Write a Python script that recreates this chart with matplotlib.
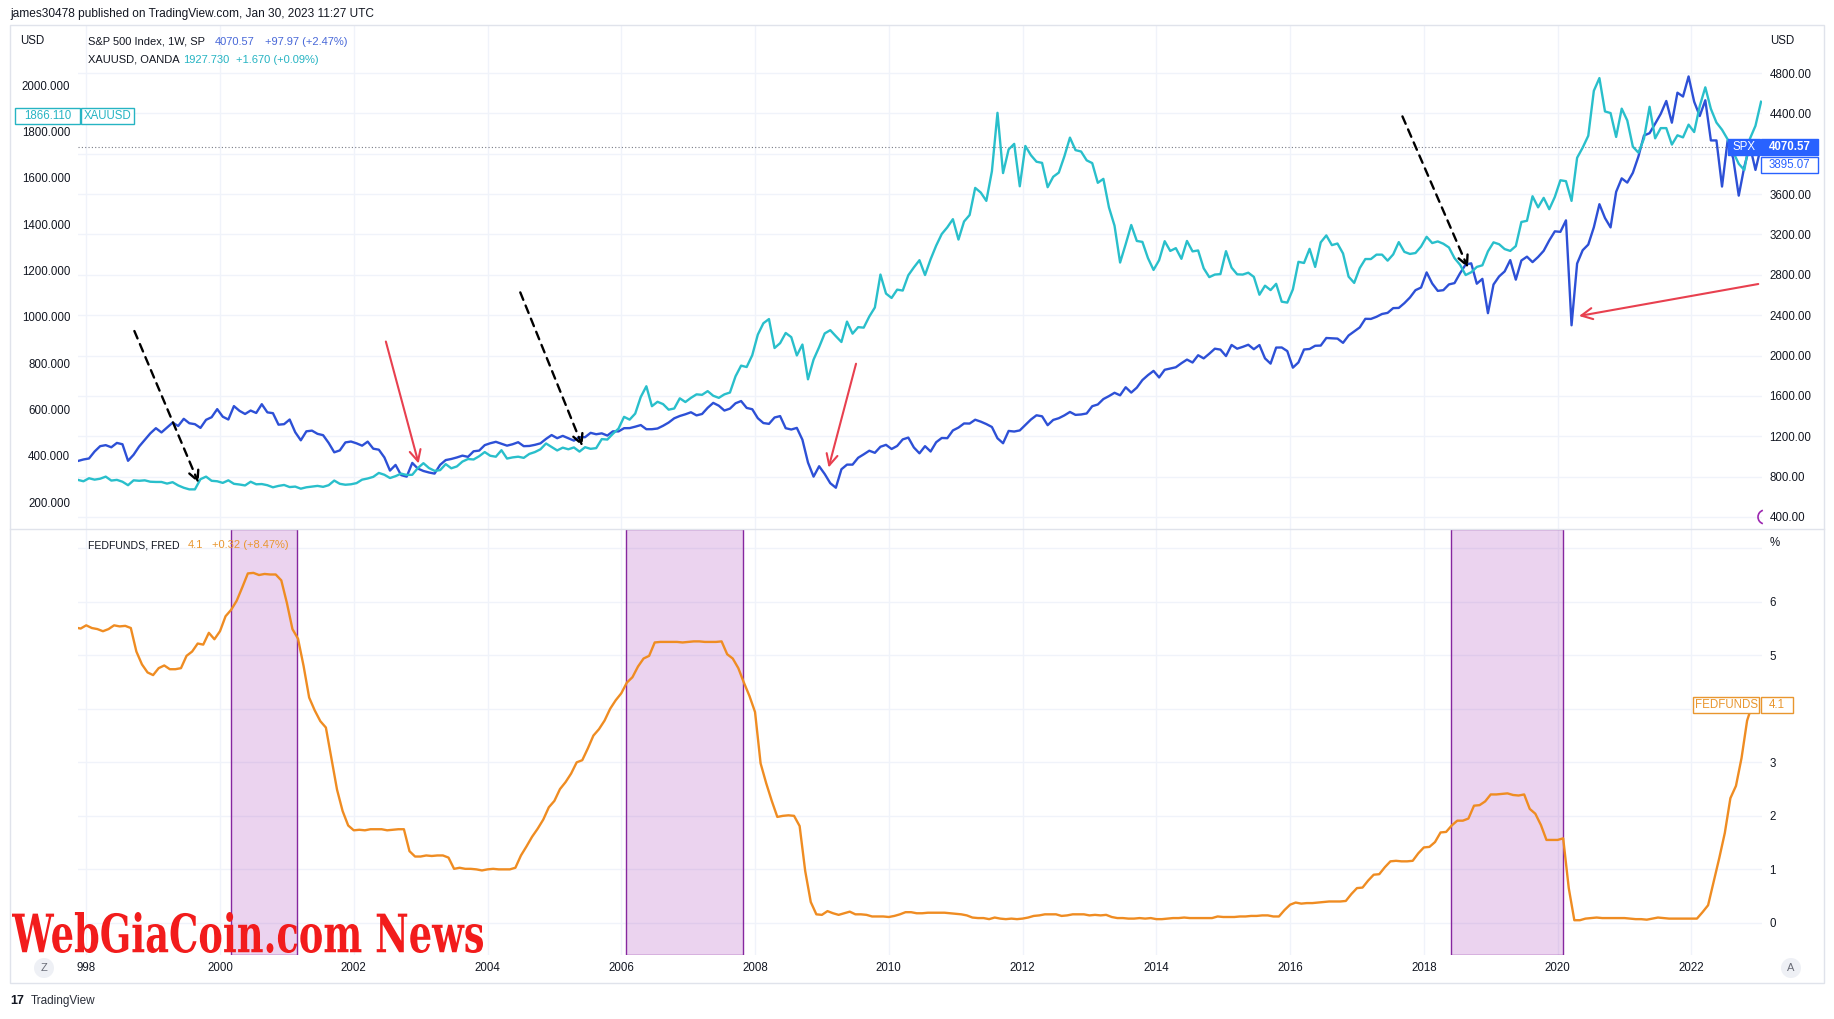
import numpy as np
import pandas as pd
import matplotlib
matplotlib.use('Agg')
import matplotlib.pyplot as plt
from matplotlib.patches import Rectangle, PathPatch, Ellipse, Arc
from matplotlib.textpath import TextPath
from matplotlib.font_manager import FontProperties
from matplotlib.transforms import Affine2D

plt.rcParams['font.family'] = ['Liberation Sans', 'DejaVu Sans']

# ---- data (monthly) ----
start_month = '1997-11-01'

spx_close = [
    955, 970,  # 1997 Nov-Dec
    980, 1049, 1102, 1112, 1091, 1134, 1121, 957, 1017, 1099, 1164, 1229,  # 1998
    1280, 1238, 1286, 1335, 1302, 1373, 1329, 1320, 1283, 1363, 1389, 1469,  # 1999
    1394, 1366, 1499, 1452, 1421, 1455, 1431, 1518, 1437, 1429, 1315, 1320,  # 2000
    1366, 1240, 1160, 1249, 1256, 1224, 1211, 1134, 1041, 1060, 1139, 1148,  # 2001
    1130, 1107, 1147, 1077, 1067, 990, 860, 916, 815, 800, 936, 880,  # 2002
    856, 841, 830, 917, 964, 975, 990, 1008, 996, 1051, 1058, 1112,  # 2003
    1131, 1145, 1126, 1107, 1121, 1141, 1102, 1104, 1115, 1130, 1174, 1212,  # 2004
    1181, 1204, 1181, 1157, 1191, 1191, 1234, 1220, 1229, 1207, 1249, 1248,  # 2005
    1280, 1281, 1295, 1311, 1270, 1270, 1277, 1304, 1336, 1378, 1401, 1418,  # 2006
    1438, 1407, 1421, 1482, 1531, 1503, 1455, 1474, 1527, 1549, 1481, 1468,  # 2007
    1379, 1331, 1323, 1386, 1400, 1280, 1267, 1283, 1166, 940, 800, 903,  # 2008
    826, 735, 690, 873, 919, 919, 987, 1021, 1057, 1036, 1096, 1115,  # 2009
    1074, 1104, 1169, 1187, 1089, 1031, 1102, 1049, 1141, 1183, 1181, 1258,  # 2010
    1286, 1327, 1326, 1364, 1345, 1321, 1292, 1180, 1131, 1253, 1247, 1258,  # 2011
    1312, 1366, 1408, 1398, 1310, 1362, 1379, 1407, 1441, 1412, 1416, 1426,  # 2012
    1498, 1515, 1569, 1598, 1631, 1606, 1686, 1633, 1682, 1757, 1806, 1848,  # 2013
    1783, 1859, 1872, 1884, 1924, 1960, 1931, 2003, 1972, 2018, 2068, 2059,  # 2014
    1995, 2105, 2068, 2086, 2107, 2063, 2104, 1972, 1920, 2079, 2080, 2044,  # 2015
    1880, 1932, 2060, 2065, 2097, 2099, 2174, 2171, 2168, 2126, 2199, 2239,  # 2016
    2279, 2364, 2363, 2384, 2412, 2423, 2470, 2472, 2519, 2575, 2648, 2674,  # 2017
    2824, 2714, 2641, 2648, 2705, 2718, 2816, 2902, 2914, 2712, 2760, 2420,  # 2018
    2704, 2784, 2834, 2946, 2752, 2942, 2980, 2926, 2977, 3038, 3141, 3231,  # 2019
    3226, 3340, 2300, 2912, 3044, 3100, 3271, 3500, 3363, 3270, 3622, 3756,  # 2020
    3714, 3811, 3973, 4181, 4204, 4298, 4395, 4523, 4308, 4605, 4567, 4766,  # 2021
    4516, 4374, 4530, 4132, 4132, 3675, 4130, 3955, 3585, 3872, 4080, 3840,  # 2022
    4070.57,  # 2023 Jan
]

gold_close = [
    296, 290,  # 1997 Nov-Dec
    303, 297, 301, 310, 293, 296, 288, 273, 294, 292, 294, 288,  # 1998
    287, 287, 280, 286, 272, 262, 255, 255, 299, 310, 292, 290,  # 1999
    283, 294, 279, 276, 272, 288, 277, 278, 273, 264, 270, 274,  # 2000
    265, 267, 258, 264, 267, 270, 266, 273, 293, 279, 275, 277,  # 2001
    282, 297, 302, 309, 326, 318, 304, 312, 323, 317, 318, 347,  # 2002
    368, 347, 335, 338, 364, 346, 354, 375, 386, 384, 398, 416,  # 2003
    400, 396, 424, 388, 393, 396, 391, 408, 416, 428, 453, 438,  # 2004
    423, 435, 428, 436, 418, 437, 430, 433, 472, 470, 495, 517,  # 2005
    568, 556, 582, 654, 700, 614, 633, 623, 599, 604, 648, 632,  # 2006
    650, 665, 663, 679, 659, 650, 665, 673, 743, 789, 783, 834,  # 2007
    923, 972, 990, 865, 886, 930, 912, 833, 880, 730, 815, 869,  # 2008
    928, 942, 916, 891, 979, 927, 955, 953, 1001, 1040, 1182, 1100,  # 2009
    1081, 1117, 1113, 1179, 1213, 1244, 1180, 1248, 1307, 1357, 1386, 1421,  # 2010
    1333, 1411, 1439, 1556, 1536, 1500, 1628, 1880, 1620, 1722, 1746, 1563,  # 2011
    1737, 1697, 1669, 1664, 1559, 1604, 1622, 1692, 1773, 1719, 1713, 1675,  # 2012
    1663, 1578, 1595, 1472, 1393, 1234, 1313, 1396, 1327, 1323, 1253, 1202,  # 2013
    1244, 1326, 1284, 1296, 1250, 1327, 1282, 1286, 1209, 1171, 1182, 1184,  # 2014
    1283, 1212, 1183, 1182, 1190, 1172, 1095, 1134, 1115, 1142, 1065, 1061,  # 2015
    1118, 1237, 1232, 1293, 1215, 1321, 1351, 1309, 1316, 1273, 1173, 1146,  # 2016
    1210, 1249, 1249, 1268, 1268, 1242, 1269, 1322, 1280, 1271, 1275, 1303,  # 2017
    1345, 1318, 1325, 1315, 1299, 1253, 1224, 1180, 1192, 1215, 1222, 1282,  # 2018
    1321, 1313, 1292, 1284, 1305, 1409, 1414, 1520, 1472, 1513, 1464, 1517,  # 2019
    1589, 1585, 1500, 1686, 1730, 1781, 1975, 2030, 1886, 1879, 1776, 1898,  # 2020
    1847, 1734, 1708, 1769, 1906, 1770, 1814, 1814, 1743, 1783, 1774, 1829,  # 2021
    1797, 1909, 1990, 1897, 1838, 1807, 1766, 1711, 1660, 1633, 1768, 1824,  # 2022
    1927.73,  # 2023 Jan
]

fedfunds = [
    5.52, 5.50,  # 1997 Nov-Dec
    5.56, 5.51, 5.49, 5.45, 5.49, 5.56, 5.54, 5.55, 5.51, 5.07, 4.83, 4.68,  # 1998
    4.63, 4.76, 4.81, 4.74, 4.74, 4.76, 4.99, 5.07, 5.22, 5.20, 5.42, 5.30,  # 1999
    5.45, 5.73, 5.85, 6.02, 6.27, 6.53, 6.54, 6.50, 6.52, 6.51, 6.51, 6.40,  # 2000
    5.98, 5.49, 5.31, 4.80, 4.21, 3.97, 3.77, 3.65, 3.07, 2.49, 2.09, 1.82,  # 2001
    1.73, 1.74, 1.73, 1.75, 1.75, 1.75, 1.73, 1.74, 1.75, 1.75, 1.34, 1.24,  # 2002
    1.24, 1.26, 1.25, 1.26, 1.26, 1.22, 1.01, 1.03, 1.01, 1.01, 1.00, 0.98,  # 2003
    1.00, 1.01, 1.00, 1.00, 1.00, 1.03, 1.26, 1.43, 1.61, 1.76, 1.93, 2.16,  # 2004
    2.28, 2.50, 2.63, 2.79, 3.00, 3.04, 3.26, 3.50, 3.62, 3.78, 4.00, 4.16,  # 2005
    4.29, 4.49, 4.59, 4.79, 4.94, 4.99, 5.24, 5.25, 5.25, 5.25, 5.25, 5.24,  # 2006
    5.25, 5.26, 5.26, 5.25, 5.25, 5.25, 5.26, 5.02, 4.94, 4.76, 4.49, 4.24,  # 2007
    3.94, 2.98, 2.61, 2.28, 1.98, 2.00, 2.01, 2.00, 1.81, 0.97, 0.39, 0.16,  # 2008
    0.15, 0.22, 0.18, 0.15, 0.18, 0.21, 0.16, 0.16, 0.15, 0.12, 0.12, 0.12,  # 2009
    0.11, 0.13, 0.16, 0.20, 0.20, 0.18, 0.18, 0.19, 0.19, 0.19, 0.19, 0.18,  # 2010
    0.17, 0.16, 0.14, 0.10, 0.09, 0.09, 0.07, 0.10, 0.08, 0.07, 0.08, 0.07,  # 2011
    0.08, 0.10, 0.13, 0.14, 0.16, 0.16, 0.16, 0.13, 0.14, 0.16, 0.16, 0.16,  # 2012
    0.14, 0.15, 0.14, 0.15, 0.11, 0.09, 0.09, 0.08, 0.08, 0.09, 0.08, 0.09,  # 2013
    0.07, 0.07, 0.08, 0.09, 0.09, 0.10, 0.09, 0.09, 0.09, 0.09, 0.09, 0.12,  # 2014
    0.11, 0.11, 0.11, 0.12, 0.12, 0.13, 0.13, 0.14, 0.14, 0.12, 0.12, 0.24,  # 2015
    0.34, 0.38, 0.36, 0.37, 0.37, 0.38, 0.39, 0.40, 0.40, 0.40, 0.41, 0.54,  # 2016
    0.65, 0.66, 0.79, 0.90, 0.91, 1.04, 1.15, 1.16, 1.15, 1.15, 1.16, 1.30,  # 2017
    1.41, 1.42, 1.51, 1.69, 1.70, 1.82, 1.91, 1.91, 1.95, 2.19, 2.20, 2.27,  # 2018
    2.40, 2.40, 2.41, 2.42, 2.39, 2.38, 2.40, 2.13, 2.04, 1.83, 1.55, 1.55,  # 2019
    1.55, 1.58, 0.65, 0.05, 0.05, 0.08, 0.09, 0.10, 0.09, 0.09, 0.09, 0.09,  # 2020
    0.09, 0.08, 0.07, 0.07, 0.06, 0.08, 0.10, 0.09, 0.08, 0.08, 0.08, 0.08,  # 2021
    0.08, 0.08, 0.20, 0.33, 0.77, 1.21, 1.68, 2.33, 2.56, 3.08, 3.78, 4.10,  # 2022
]

# shaded periods in the lower pane (decimal years)
shade_start = [2000.16, 2006.07, 2018.41]
shade_end = [2001.15, 2007.82, 2020.085]

year_ticks = list(range(1998, 2023, 2))
year_labels = ['998'] + [str(y) for y in year_ticks[1:]]
spx_ticks = list(range(400, 4801, 400))
spx_labels = ['' if v == 4000 else f'{v:.2f}' for v in spx_ticks]  # 4000 hidden under price tags
gold_ticks = list(range(200, 2001, 200))
fed_ticks = list(range(0, 8))
fed_labels = ['0', '1', '2', '3', '', '5', '6', '']

# ---- colours ----
TXT = '#131722'
GRID = '#f0f3fa'
FRAME = '#e0e3eb'
SPX_C = '#2d50d6'
GOLD_C = '#29bfcb'
FED_C = '#ef8c22'

# ---- layout in pixels ----
W, H = 1834, 1019
X0, X1 = 78, 1762
TOP0, MID, BOT1 = 25, 529, 955


def fx(x):
    return x / W


def fy(y):
    return 1 - y / H


fig = plt.figure(figsize=(W / 100, H / 100), dpi=100)
fig.patch.set_facecolor('white')

ax_spx = fig.add_axes([fx(X0), fy(MID), (X1 - X0) / W, (MID - TOP0) / H])
ax_gold = ax_spx.twinx()
ax_fed = fig.add_axes([fx(X0), fy(BOT1), (X1 - X0) / W, (BOT1 - MID) / H], sharex=ax_spx)

months = pd.date_range(start_month, periods=len(spx_close), freq='MS')
x_mid = months.year + (months.month - 0.5) / 12
fmonths = pd.date_range(start_month, periods=len(fedfunds), freq='MS')
x_fed = fmonths.year + (fmonths.month - 1) / 12

ax_spx.plot(x_mid, spx_close, color=SPX_C, lw=1.7, solid_joinstyle='round')
ax_gold.plot(x_mid, gold_close, color=GOLD_C, lw=1.7, solid_joinstyle='round')
ax_spx.axhline(spx_close[-1], color='#787b86', ls=(0, (1, 2)), lw=0.8)

for a, b in zip(shade_start, shade_end):
    ax_fed.axvspan(a, b, facecolor=(0.61, 0.15, 0.69, 0.2), edgecolor='#86279f', lw=1.0, zorder=1)
ax_fed.plot(x_fed, fedfunds, color=FED_C, lw=1.7, zorder=3)

ax_spx.set_xlim(1997.877, 2023.056)
ax_spx.set_ylim(281, 5276)
ax_gold.set_ylim(84, 2259)
ax_fed.set_ylim(-0.6, 7.36)

for ax in (ax_spx, ax_gold, ax_fed):
    for s in ax.spines.values():
        s.set_visible(False)
    ax.tick_params(length=0, labelsize=8.3, labelcolor=TXT, pad=5.5)

ax_spx.yaxis.tick_right()
ax_spx.set_yticks(spx_ticks)
ax_spx.set_yticklabels(spx_labels)
ax_spx.set_xticks(year_ticks)
ax_spx.tick_params(axis='x', labelbottom=False)
ax_spx.grid(True, color=GRID, lw=1)
ax_spx.set_axisbelow(True)

ax_gold.yaxis.tick_left()
ax_gold.set_yticks(gold_ticks)
ax_gold.set_yticklabels([f'{v:.3f}' for v in gold_ticks])
ax_gold.grid(False)

ax_fed.yaxis.tick_right()
ax_fed.set_yticks(fed_ticks)
ax_fed.set_yticklabels(fed_labels)
ax_fed.set_xticks(year_ticks)
ax_fed.set_xticklabels(year_labels)
ax_fed.tick_params(axis='x', pad=5)
ax_fed.grid(True, color=GRID, lw=1)
ax_fed.set_axisbelow(True)

# ---- drawn arrows (SPX coordinates) ----
black_arrows = [((1998.72, 2243), (1999.68, 737)),
                ((2004.49, 2626), (2005.42, 1100)),
                ((2017.68, 4370), (2018.66, 2870))]
red_arrows = [((2002.48, 2139), (2002.97, 930)),
              ((2009.51, 1919), (2009.10, 890)),
              ((2023.00, 2709), (2020.32, 2392))]
for tail, head in black_arrows:
    ax_gold.annotate('', xy=head, xytext=tail, xycoords=ax_spx.transData,
                     textcoords=ax_spx.transData, annotation_clip=False,
                     arrowprops=dict(arrowstyle='->,head_length=0.7,head_width=0.35', color='black',
                                     lw=1.7, linestyle=(0, (3.4, 2.6)), shrinkA=0, shrinkB=0))
for tail, head in red_arrows:
    ax_gold.annotate('', xy=head, xytext=tail, xycoords=ax_spx.transData,
                     textcoords=ax_spx.transData, annotation_clip=False,
                     arrowprops=dict(arrowstyle='->,head_length=0.8,head_width=0.4', color='#e8404f',
                                     lw=1.5, shrinkA=0, shrinkB=0))

# ---- frame ----
fig.add_artist(Rectangle((fx(10), fy(983)), (1824 - 10) / W, (983 - TOP0) / H,
                         transform=fig.transFigure, fill=False, ec=FRAME, lw=1))
fig.add_artist(plt.Line2D([fx(10), fx(1824)], [fy(MID), fy(MID)], transform=fig.transFigure,
                          color=FRAME, lw=1))


def label(x, y, s, color=TXT, size=8.3, **kw):
    fig.text(fx(x), fy(y), s, color=color, fontsize=size, va='center', ha='left', **kw)


def tag(x0, y0, x1, y1, s, fc, ec, tc, bold=False):
    fig.add_artist(Rectangle((fx(x0), fy(y1)), (x1 - x0) / W, (y1 - y0) / H,
                             transform=fig.transFigure, fc=fc, ec=ec, lw=1))
    fig.text(fx((x0 + x1) / 2), fy((y0 + y1) / 2), s, color=tc, fontsize=8.3,
             ha='center', va='center', fontweight='bold' if bold else 'normal')


label(10, 14, 'james30478 published on TradingView.com, Jan 30, 2023 11:27 UTC', size=8.6)
label(20, 41, 'USD')
label(1770, 41, 'USD')
label(1770, 543, '%')

label(88, 42, 'S&P 500 Index, 1W, SP', size=8)
label(215, 42, '4070.57', color='#4868d8', size=8)
label(265, 42, '+97.97 (+2.47%)', color='#4868d8', size=8)
label(88, 60, 'XAUUSD, OANDA', size=8)
label(183, 60, '1927.730', color='#26b4c3', size=8)
label(236, 60, '+1.670 (+0.09%)', color='#26b4c3', size=8)
label(88, 545, 'FEDFUNDS, FRED', size=7.6)
label(188, 545, '4.1', color='#e9962e', size=8)
label(212, 545, '+0.32 (+8.47%)', color='#e9962e', size=8)

tag(15, 108, 80, 124, '1866.110', 'white', '#26b4c3', '#26b4c3')
tag(81, 108, 134, 124, 'XAUUSD', 'white', '#26b4c3', '#26b4c3')
tag(1728, 139, 1760, 155, 'SPX', '#2962ff', '#2962ff', 'white')
tag(1761, 139, 1818, 155, '4070.57', '#2962ff', '#2962ff', 'white', bold=True)
tag(1761, 157, 1818, 173, '3895.07', 'white', '#2962ff', '#2962ff')
tag(1693, 697, 1759, 713, 'FEDFUNDS', 'white', '#e9962e', '#e9962e')
tag(1761, 697, 1793, 713, '4.1', 'white', '#e9962e', '#e9962e')

fig.add_artist(Arc((fx(1765), fy(517)), 14 / W, 14 / H, theta1=100, theta2=260,
                   transform=fig.transFigure, color='#9c27b0', lw=1.2))

for cx, s in ((44, 'Z'), (1791, 'A')):
    fig.add_artist(Ellipse((fx(cx), fy(968)), 20 / W, 20 / H, transform=fig.transFigure,
                           fc='#eef0f5', ec='none'))
    fig.text(fx(cx), fy(968), s, color='#6a6d78', fontsize=8, ha='center', va='center')

label(10, 1001, '17', size=9, fontweight='heavy')
label(31, 1001, 'TradingView', size=8.5, color='#2a2e39')

# ---- watermark ----
tp = TextPath((0, 0), 'WebGiaCoin.com News', size=100,
              prop=FontProperties(family='DejaVu Serif', weight='bold'))
bb = tp.get_extents()
wx0, wx1, wy_top, wy_base = 12, 483, 912, 953
trans = (Affine2D().translate(-bb.x0, -bb.y0)
         .scale((wx1 - wx0) / bb.width, (wy_base - wy_top) / bb.height)
         .translate(wx0, H - wy_base).scale(1 / 100) + fig.dpi_scale_trans)
fig.add_artist(PathPatch(tp, transform=trans, fc='#f21c1c', ec='none', zorder=5))

fig.savefig('out.png', dpi=100)
